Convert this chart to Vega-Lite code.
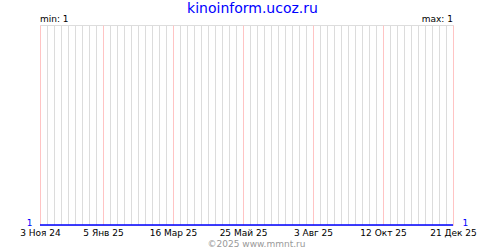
{
  "$schema": "https://vega.github.io/schema/vega-lite/v6.json",
  "width": 413,
  "height": 200,
  "autosize": {"type": "none"},
  "padding": {"left": 40, "top": 25, "right": 47, "bottom": 25},
  "background": "white",
  "title": {"text": "kinoinform.ucoz.ru", "font": "DejaVu Sans", "fontSize": 14, "fontWeight": "normal", "color": "#0000ff", "anchor": "middle", "frame": "group", "baseline": "alphabetic", "offset": -12, "dx": 6},
  "config": {"view": {"stroke": "#dddddd"}, "font": "DejaVu Sans"},
  "data": {"values": [
    {"date": "2024-11-03", "value": 1},
    {"date": "2025-01-05", "value": 1},
    {"date": "2025-03-16", "value": 1},
    {"date": "2025-05-25", "value": 1},
    {"date": "2025-08-03", "value": 1},
    {"date": "2025-10-12", "value": 1},
    {"date": "2025-12-21", "value": 1}
  ]},
  "layer": [
    {
      "mark": {"type": "line", "color": "#0000ff", "strokeWidth": 1.2},
      "encoding": {
        "x": {"field": "date", "type": "temporal",
          "scale": {"type": "utc", "domain": ["2024-11-03", "2025-12-21"], "nice": false},
          "axis": {
            "tickCount": {"interval": "week", "step": 1},
            "grid": true,
            "gridColor": {"condition": {"test": "(datum.value - 1730592000000) == 0 || ((datum.value - 1730592000000) / 86400000 + 7) % 70 == 0", "value": "#ffc4c4"}, "value": "#dcdcdc"},
            "gridOpacity": 1,
            "ticks": false,
            "domain": false,
            "labelOverlap": false,
            "labelFlush": false,
            "labelBound": false,
            "labelExpr": "((datum.value - 1730592000000) == 0 || ((datum.value - 1730592000000) / 86400000 + 7) % 70 == 0) ? utcdate(datum.value) + ' ' + ['Янв','Фев','Мар','Апр','Май','Июн','Июл','Авг','Сен','Окт','Ноя','Дек'][utcmonth(datum.value)] + ' ' + utcFormat(datum.value, '%y') : ''",
            "labelFont": "DejaVu Sans",
            "labelFontSize": 9,
            "labelColor": "#000000",
            "labelPadding": 3,
            "labelBaseline": "top",
            "title": "©2025 www.mmnt.ru",
            "titleFont": "DejaVu Sans",
            "titleFontSize": 9,
            "titleFontWeight": "normal",
            "titleColor": "#999999",
            "titleX": 216,
            "titleY": 21,
            "titleAlign": "center",
            "titleBaseline": "alphabetic"
          }
        },
        "y": {"field": "value", "type": "quantitative",
          "scale": {"domain": [1, 2], "nice": false, "zero": false},
          "axis": {"orient": "left", "values": [1], "grid": false, "ticks": false, "domain": false, "title": null, "labelColor": "#0000ff", "labelFont": "DejaVu Sans", "labelFontSize": 9, "labelPadding": 8, "labelBaseline": "alphabetic"}
        }
      }
    },
    {
      "mark": {"type": "line", "color": "#0000ff", "strokeWidth": 1.2},
      "encoding": {
        "x": {"field": "date", "type": "temporal"},
        "y": {"field": "value", "type": "quantitative",
          "axis": {"orient": "right", "values": [1], "grid": false, "ticks": false, "domain": false, "title": null, "labelColor": "#0000ff", "labelFont": "DejaVu Sans", "labelFontSize": 9, "labelPadding": 9, "labelBaseline": "alphabetic"}
        }
      }
    },
    {
      "data": {"values": [{"label": "min: 1", "date": "2024-11-03", "value": 2}]},
      "mark": {"type": "text", "align": "left", "baseline": "alphabetic", "dy": -3, "font": "DejaVu Sans", "fontSize": 9, "color": "#000000"},
      "encoding": {
        "x": {"field": "date", "type": "temporal"},
        "y": {"field": "value", "type": "quantitative", "axis": null},
        "text": {"field": "label"}
      }
    },
    {
      "data": {"values": [{"label": "max: 1", "date": "2025-12-21", "value": 2}]},
      "mark": {"type": "text", "align": "right", "baseline": "alphabetic", "dy": -3, "font": "DejaVu Sans", "fontSize": 9, "color": "#000000"},
      "encoding": {
        "x": {"field": "date", "type": "temporal"},
        "y": {"field": "value", "type": "quantitative", "axis": null},
        "text": {"field": "label"}
      }
    }
  ],
  "resolve": {"axis": {"y": "independent"}}
}
